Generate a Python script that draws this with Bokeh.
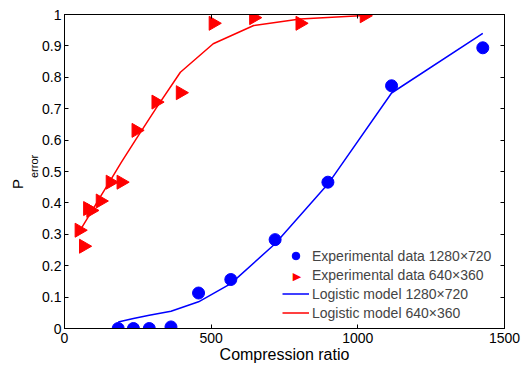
import math
from bokeh.plotting import figure
from bokeh.models import Range1d, LinearAxis, FixedTicker, Label, Legend, LegendItem, Title
from bokeh.embed import file_html
from bokeh.resources import INLINE

# ---- data ----
blue_x = [183, 235, 289, 363, 457, 567, 718, 898, 1115, 1426]
blue_y = [0.0, 0.0, 0.0, 0.005, 0.113, 0.156, 0.283, 0.466, 0.773, 0.894]
blue_model_y = [0.021, 0.032, 0.042, 0.055, 0.085, 0.143, 0.270, 0.460, 0.750, 0.940]

red_x = [50, 65, 79, 90, 122, 156, 193, 244, 312, 395, 507, 645, 803, 1022]
red_y = [0.313, 0.262, 0.382, 0.376, 0.406, 0.466, 0.466, 0.631, 0.721, 0.751,
         0.972, 0.990, 0.972, 0.996]
red_model_y = [0.308, 0.331, 0.352, 0.369, 0.419, 0.471, 0.528, 0.603, 0.701, 0.816,
               0.907, 0.965, 0.986, 0.997]

x_ticks = [0, 500, 1000, 1500]
x_tick_labels = ["0", "500", "1000", "1500"]
y_ticks = [0, 0.1, 0.2, 0.3, 0.4, 0.5, 0.6, 0.7, 0.8, 0.9, 1]
y_tick_labels = ["0", "0.1", "0.2", "0.3", "0.4", "0.5", "0.6", "0.7", "0.8", "0.9", "1"]

legend_labels = ["Experimental data 1280\u00d7720", "Experimental data 640\u00d7360",
                 "Logistic model 1280\u00d7720", "Logistic model 640\u00d7360"]
x_title = "Compression ratio"
y_title_main = "P"
y_title_sub = "error"

FONT = "Liberation Sans"
BLUE = "#0000ff"
RED = "#ff0000"

p = figure(width=522, height=367, output_backend="svg", toolbar_location=None,
           x_range=Range1d(0, 1500), y_range=Range1d(0, 1),
           min_border_left=64, min_border_right=18, min_border_top=14, min_border_bottom=39)
p.background_fill_color = "white"
p.border_fill_color = "white"
p.outline_line_color = "black"
p.outline_line_width = 1
p.xgrid.visible = False
p.ygrid.visible = False

def style_axis(ax, ticks, labels, show_labels=True, standoff=3):
    ax.ticker = FixedTicker(ticks=ticks)
    if show_labels:
        ax.major_label_overrides = {t: l for t, l in zip(ticks, labels)}
        ax.major_label_text_font = FONT
        ax.major_label_text_font_size = "14px"
        ax.major_label_text_color = "black"
        ax.major_label_standoff = standoff
    else:
        ax.major_label_overrides = {t: "" for t in ticks}
        ax.major_label_text_font_size = "1px"
        ax.major_label_standoff = 0
    ax.major_tick_in = 4
    ax.major_tick_out = 0
    ax.major_tick_line_color = "black"
    ax.minor_tick_line_color = None
    ax.axis_line_color = "black"
    ax.axis_line_width = 1

style_axis(p.xaxis[0], x_ticks, x_tick_labels, True, 4)
style_axis(p.yaxis[0], y_ticks, y_tick_labels, True, 3)
p.xaxis[0].axis_label = x_title
p.xaxis[0].axis_label_text_font = FONT
p.xaxis[0].axis_label_text_font_size = "16px"
p.xaxis[0].axis_label_text_font_style = "normal"
p.xaxis[0].axis_label_text_color = "black"
p.xaxis[0].axis_label_standoff = 0

top_ax = LinearAxis()
style_axis(top_ax, x_ticks, x_tick_labels, False)
p.add_layout(top_ax, "above")
right_ax = LinearAxis()
style_axis(right_ax, y_ticks, y_tick_labels, False)
p.add_layout(right_ax, "right")

# ---- glyphs ----
r_bl = p.line(blue_x, blue_model_y, line_color=BLUE, line_width=1.5)
r_rl = p.line(red_x, red_model_y, line_color=RED, line_width=1.5)
r_bc = p.scatter(blue_x, blue_y, marker="circle", size=12,
                 fill_color=BLUE, line_color=BLUE)
r_rt = p.scatter(red_x, red_y, marker="triangle", size=14, angle=-math.pi / 2,
                 fill_color=RED, line_color=RED)
# invisible stand-in so the legend row keeps its place; the right-pointing
# symbol is drawn as a text glyph below
r_dummy = p.scatter([], [], marker="triangle", size=10, fill_alpha=0, line_alpha=0)

legend = Legend(items=[LegendItem(label=legend_labels[0], renderers=[r_bc]),
                       LegendItem(label=legend_labels[1], renderers=[r_dummy]),
                       LegendItem(label=legend_labels[2], renderers=[r_bl]),
                       LegendItem(label=legend_labels[3], renderers=[r_rl])],
                location=(218, 6))
legend.padding = 0
legend.margin = 0
legend.spacing = 0
legend.glyph_width = 27
legend.glyph_height = 19
legend.label_height = 19
legend.label_standoff = 3
legend.label_text_font = FONT
legend.label_text_font_size = "14px"
legend.border_line_color = None
legend.background_fill_alpha = 0
p.add_layout(legend)

p.add_layout(Label(x=232.5, y=52.5, x_units="screen", y_units="screen", text="\u25b6",
                   text_font="DejaVu Sans", text_font_size="11px", text_align="center",
                   text_baseline="middle", text_color=RED))

# ---- y axis title: P with subscript "error" ----
p.add_layout(Title(text=y_title_sub, align="left", offset=150.5, standoff=0,
                   text_font=FONT, text_font_size="11px", text_font_style="normal",
                   text_color="black"), "left")
p.add_layout(Title(text=y_title_main, align="left", offset=139.5, standoff=0,
                   text_font=FONT, text_font_size="15px", text_font_style="normal",
                   text_color="black"), "left")

open("out.html", "w").write(file_html(p, INLINE))
